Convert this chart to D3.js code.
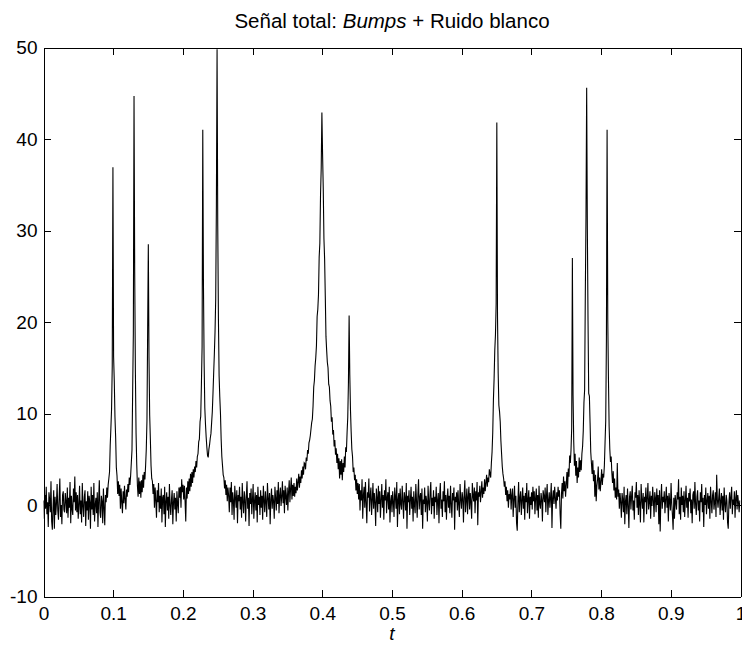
<html>

<head>
    <script src="https://d3js.org/d3.v7.min.js"></script>
    <style>
        body {
            margin: 0px;
            background-color: white;
        }

        text {
            font-family: Arial, "Liberation Sans", sans-serif;
            fill: black;
        }

        .axis path,
        .axis line {
            stroke: black;
            stroke-width: 1;
            shape-rendering: crispEdges;
        }
    </style>
</head>

<body>
    <svg id="chart" width="742" height="646"></svg>
</body>

<script>
    // Bumps + white noise, 1024 samples on [0, 1)
    const signal = [
        0.5, -1.5, 1.1, -0.4, 2.0, -1.0, 0.3, -2.4, 1.4, 0.6, -0.8, 2.6, -1.8, -2.7, -0.3, 1.6,
        -2.6, 0.9, -1.1, 0.1, 2.3, -0.6, -1.6, 0.8, 2.9, -1.3, 0.0, -2.1, 1.1, 1.5, -0.5, -0.8,
        1.3, 0.4, -0.9, 1.9, -1.4, 0.8, -0.3, 2.5, -2.0, 1.0, -0.4, -1.1, 1.8, 0.3, 3.1, -0.6,
        1.4, -0.8, 1.1, -1.5, 0.1, 2.1, -1.0, 0.5, -1.9, 2.4, -0.1, -1.3, 0.9, 1.6, -2.3, 0.4,
        -0.6, 1.5, -1.6, 1.0, 0.3, -2.6, 2.0, -0.5, 1.1, -1.1, 2.4, -1.8, 0.0, 0.8, -0.9, 1.4,
        -2.4, 0.5, 2.7, -0.8, -1.4, 1.0, 0.4, -2.0, 1.8, -0.3, -2.2, 1.1, 0.3, 1.9, 0.8, 2.2,
        2.9, 3.6, 6.5, 8.4, 10.5, 15.2, 36.9, 16.2, 13.5, 9.6, 7.4, 4.1, 3.2, 1.2, 2.6, 1.0,
        2.2, -0.4, 1.8, 0.3, -0.9, 1.5, 0.2, 2.1, 0.6, -0.5, 1.7, 0.9, 2.3, 1.4, 3.0, 2.2,
        3.2, 4.6, 6.0, 12.5, 18.8, 44.7, 25.4, 14.5, 7.8, 4.4, 2.1, 0.9, 3.0, 1.2, 2.6, 0.8,
        2.7, 1.4, 3.3, 1.9, 3.6, 2.8, 4.3, 6.1, 9.2, 19.0, 28.5, 16.1, 9.8, 7.2, 4.3, 2.9,
        2.6, 1.2, 2.3, -0.3, 1.9, 0.5, -1.4, 1.6, 0.3, 2.4, -0.8, 1.0, -0.4, 1.8, -1.9, 0.8,
        1.1, -1.0, 2.0, -2.4, 0.4, 1.4, -0.6, 0.9, -1.5, 2.3, 0.0, -1.1, 0.6, 1.6, -2.1, 0.3,
        1.3, -0.5, 0.8, -1.8, 1.5, 0.1, -0.9, 1.9, 0.8, 2.0, -0.3, 2.8, 1.4, 2.2, 0.6, 2.1,
        0.4, -1.8, 1.9, 0.7, 2.6, 1.2, 2.9, 1.5, 3.4, 2.0, 3.6, 2.4, 3.9, 3.0, 4.2, 3.6,
        4.8, 4.1, 5.3, 5.6, 6.9, 7.2, 9.1, 9.7, 13.2, 17.3, 41.0, 24.1, 15.5, 10.6, 8.8, 7.4,
        6.3, 5.4, 5.2, 6.1, 6.6, 7.3, 7.8, 9.0, 10.2, 12.2, 14.4, 16.5, 18.9, 22.5, 32.8, 49.8,
        30.5, 20.3, 14.1, 11.8, 10.0, 7.2, 5.3, 4.3, 3.3, 3.0, 1.8, 2.7, 1.1, 2.2, 0.4, 1.9,
        1.0, -0.8, 1.9, 0.3, 2.5, -1.1, 1.4, 0.5, -1.6, 2.1, 0.8, -0.3, 1.6, -2.0, 1.1, 0.4,
        2.0, -0.5, 0.9, -1.4, 2.4, 0.3, -0.9, 1.5, 0.6, -1.8, 1.0, 2.6, -0.4, 0.8, -2.3, 1.3,
        0.1, 1.8, -1.0, 0.6, 2.3, -1.5, 0.4, 1.4, -0.6, 1.1, -1.9, 2.0, 0.0, 0.9, -1.1, 1.6,
        -0.3, 1.0, -1.6, 2.1, 0.5, -0.8, 1.5, 0.3, -1.3, 2.4, 0.8, -0.5, 1.3, -2.1, 0.6, 1.8,
        -0.4, 1.1, 0.4, -1.5, 2.0, 0.8, -0.6, 1.6, 0.1, 2.5, -0.9, 1.0, 1.9, -0.1, 0.9, 2.6,
        0.2, 1.6, -0.9, 2.1, 0.9, 0.0, 1.9, -0.6, 1.4, 2.7, 0.3, 1.8, 3.0, 0.6, 2.2, 1.0,
        2.4, 0.9, 2.0, 1.3, 2.9, 1.6, 2.5, 3.4, 1.9, 3.1, 2.4, 3.8, 2.9, 4.2, 3.3, 4.6,
        4.5, 3.9, 5.2, 4.8, 6.0, 5.6, 6.8, 7.1, 7.6, 8.3, 9.0, 9.4, 10.8, 12.9, 13.6, 15.2,
        16.1, 17.4, 20.6, 21.4, 23.0, 27.1, 28.6, 33.9, 36.8, 42.9, 38.4, 34.6, 29.1, 26.9, 22.8, 18.4,
        16.9, 15.6, 15.0, 13.2, 12.9, 11.4, 10.8, 9.1, 9.6, 7.7, 8.2, 6.4, 7.1, 5.5, 6.2, 4.6,
        5.6, 3.9, 5.1, 2.9, 4.8, 3.3, 5.0, 2.7, 4.6, 3.6, 5.3, 4.1, 6.3, 5.8, 7.9, 9.6,
        13.4, 20.7, 14.2, 10.4, 8.0, 6.1, 5.3, 3.6, 4.1, 2.7, 3.3, 1.6, 2.8, 1.2, 2.4, 0.6,
        2.3, -0.6, 1.6, 0.5, 2.8, -1.5, 1.1, 2.0, -0.3, 2.5, 0.3, -2.0, 1.4, 0.8, 2.9, -0.7,
        1.0, 1.9, -1.1, 0.5, 2.4, -0.4, 1.3, 0.3, -2.3, 1.8, 0.8, -0.8, 2.1, 0.1, 1.5, -1.4,
        0.6, 2.3, -0.3, 1.1, -1.6, 1.6, 0.5, 2.8, -0.9, 0.8, 1.4, -0.5, 2.0, -1.9, 0.4, 1.1,
        -0.8, 1.5, 0.3, -1.3, 1.9, 0.9, -0.4, 2.5, -2.4, 0.6, 1.3, -1.0, 1.8, 0.1, -0.5, 2.1,
        0.4, -1.5, 1.4, 0.8, -0.6, 2.4, -2.6, 1.0, 0.3, 1.6, -1.1, 0.5, 2.0, -0.4, 0.9, -1.8,
        1.5, 0.0, -0.9, 2.3, 0.5, -1.4, 1.1, 2.8, -0.5, 0.8, 1.3, -1.1, 1.8, -2.6, 0.6, 0.1,
        1.9, -0.8, 1.0, 0.4, -1.8, 2.1, 0.3, -0.6, 1.4, 2.5, -1.0, 0.8, -0.1, 1.6, -1.5, 0.9,
        0.3, 2.0, -1.1, 0.5, 1.3, -2.0, 1.0, 2.4, -0.4, 0.6, -1.3, 1.5, 0.4, 2.6, -0.8, 1.1,
        -1.6, 0.8, 1.8, -0.3, 1.0, -0.9, 2.1, 0.1, -1.4, 1.3, 0.5, 1.9, -2.7, 0.9, 0.3, 1.4,
        -0.6, 1.6, 0.0, -1.3, 2.3, 0.6, -0.4, 1.4, 0.8, -1.9, 1.1, 2.7, -0.8, 0.5, 1.8, -1.0,
        0.9, 2.0, -0.5, 1.3, 0.3, -1.5, 2.4, 1.0, 0.4, 1.9, -0.9, 1.5, 0.5, 2.5, -2.2, 1.4,
        0.9, 2.1, 0.3, 1.4, 2.6, 0.8, 1.9, 1.2, 2.8, 1.5, 2.4, 3.3, 2.0, 3.0, 2.5, 3.9,
        3.4, 3.0, 4.6, 5.8, 7.9, 11.5, 13.8, 16.9, 18.6, 22.0, 41.8, 20.6, 14.4, 10.9, 10.2, 9.1,
        7.0, 5.6, 4.2, 3.4, 2.9, 2.0, 2.6, 1.1, 2.0, 0.4, 1.6, -0.3, 1.2, 0.6, 1.8, -0.5,
        1.1, 1.8, -1.3, 0.6, 2.1, -0.3, 1.0, -2.0, -2.8, 0.4, 2.5, -0.8, 0.8, 1.5, -1.1, 0.5,
        1.9, -0.4, 1.0, -1.6, 1.3, 0.3, 2.4, -0.9, 0.6, 1.6, -1.5, 0.9, 0.0, 1.4, -0.5, 2.0,
        0.4, 1.5, -1.0, 0.8, 1.8, -0.6, 1.1, -1.4, 2.1, 0.1, -0.4, 1.3, 0.6, -1.8, 1.6, 1.0,
        0.3, 1.9, -0.8, 1.1, 2.3, -1.1, 0.5, 1.4, -0.3, 0.9, 2.4, -2.5, 0.8, 1.6, 0.1, 2.0,
        0.8, -0.4, 1.4, 0.5, 2.0, 0.9, 1.6, -1.0, -2.6, 1.2, 2.4, 0.7, 3.1, 1.5, 2.6, 0.9,
        2.2, 3.6, 1.8, 4.0, 3.1, 5.4, 4.6, 6.0, 8.4, 27.0, 12.0, 6.9, 4.3, 5.6, 3.2, 4.8,
        2.4, 4.1, 3.0, 5.2, 3.6, 4.9, 3.8, 5.6, 6.4, 8.1, 11.2, 12.6, 23.0, 31.5, 45.6, 30.2,
        20.1, 12.2, 11.9, 9.0, 5.8, 4.6, 3.4, 4.9, 2.6, 3.8, 0.9, 3.3, 0.4, 2.1, 2.8, 4.2,
        1.7, 3.0, 1.5, 2.6, 3.9, 2.2, 3.4, 3.0, 4.3, 6.8, 9.2, 18.0, 41.0, 20.3, 13.8, 8.6,
        6.1, 4.7, 5.3, 3.5, 2.4, 3.7, 1.6, 2.9, 0.8, 1.9, 0.6, 4.6, 0.9, 1.7, -0.4, 1.3,
        0.3, -1.4, 1.3, 0.6, -0.8, 2.0, -2.1, 0.4, 1.1, -1.0, 1.8, 0.0, -2.5, 0.9, 1.5, -0.5,
        1.0, 2.1, -0.6, 0.5, -1.6, 1.4, 0.8, 2.5, -0.3, 1.1, -1.1, 1.6, 0.1, -1.9, 2.3, 0.6,
        -0.4, 1.3, -1.9, 0.9, 0.3, 1.9, -1.0, 0.8, 2.4, -0.5, 0.4, 1.5, -1.5, 1.0, -0.1, 2.0,
        0.5, -1.3, 1.4, 0.8, -0.8, 1.8, 0.0, 1.1, -2.1, 1.6, -2.9, 0.6, 2.3, -0.4, 0.9, 0.3,
        1.5, -0.9, 0.6, 2.0, -0.3, 1.0, -1.8, 1.3, 0.4, -0.6, 2.4, 0.1, -1.1, -2.7, 0.8, -1.5,
        1.1, 0.3, -0.5, 1.4, 0.6, 2.8, -1.0, 0.9, -1.6, 1.9, 0.0, 1.0, -0.8, 1.5, -1.3, 0.5,
        2.1, -0.3, 0.8, -1.4, 1.3, 0.4, 1.8, -0.9, 0.6, -2.0, 1.1, 1.5, -0.4, 2.5, 0.1, -1.1,
        0.9, 1.6, -0.6, 0.5, -1.8, 1.4, 0.3, 2.3, -0.8, 0.8, -2.4, 1.1, 0.0, 1.9, -1.0, 0.4,
        1.3, -0.4, 1.0, -1.5, 2.0, 0.5, -0.9, 1.1, 1.6, -0.5, 0.3, 1.4, -1.3, 3.3, 0.6, -0.3,
        0.8, 1.8, -1.1, 0.4, 1.3, -0.6, 1.0, -1.6, 1.9, 0.1, -0.8, 1.1, 0.5, -1.9, -2.6, 0.3,
        1.4, -0.4, 0.9, 2.0, -1.0, 0.6, 0.0, 1.5, -1.4, 0.8, 1.6, -0.5, 1.1, 0.3, -0.8, 0.5
    ];

    const xTicks = [0, 0.1, 0.2, 0.3, 0.4, 0.5, 0.6, 0.7, 0.8, 0.9, 1];
    const xTickLabels = ["0", "0.1", "0.2", "0.3", "0.4", "0.5", "0.6", "0.7", "0.8", "0.9", "1"];
    const yTicks = [-10, 0, 10, 20, 30, 40, 50];
    const yTickLabels = ["-10", "0", "10", "20", "30", "40", "50"];

    const svg = d3.select("#chart");
    const box = { left: 43.5, right: 740.5, top: 47.5, bottom: 596.5 };
    const tickLen = 7;

    const xScale = d3.scaleLinear().domain([0, 1]).range([box.left, box.right]);
    const yScale = d3.scaleLinear().domain([-10, 50]).range([box.bottom, box.top]);
    const dt = 1 / signal.length;

    svg.append("rect")
        .attr("width", 742).attr("height", 646)
        .attr("fill", "white");

    // clip the trace to the axes box
    svg.append("clipPath").attr("id", "plotClip")
        .append("rect")
        .attr("x", box.left).attr("y", box.top)
        .attr("width", box.right - box.left).attr("height", box.bottom - box.top);

    let lineGen = d3.line()
        .x((d, i) => xScale(i * dt))
        .y(d => yScale(d));

    svg.append("path")
        .datum(signal)
        .attr("clip-path", "url(#plotClip)")
        .attr("fill", "none")
        .attr("stroke", "black")
        .attr("stroke-width", 1.1)
        .attr("d", lineGen);

    // axes, ticks pointing inward like matlab
    let bottomAxis = d3.axisBottom(xScale)
        .tickValues(xTicks)
        .tickFormat((d, i) => xTickLabels[i])
        .tickSizeInner(-tickLen).tickSizeOuter(0).tickPadding(10);
    let topAxis = d3.axisTop(xScale)
        .tickValues(xTicks).tickFormat("")
        .tickSizeInner(-tickLen).tickSizeOuter(0);
    let leftAxis = d3.axisLeft(yScale)
        .tickValues(yTicks)
        .tickFormat((d, i) => yTickLabels[i])
        .tickSizeInner(-tickLen).tickSizeOuter(0).tickPadding(6);
    let rightAxis = d3.axisRight(yScale)
        .tickValues(yTicks).tickFormat("")
        .tickSizeInner(-tickLen).tickSizeOuter(0);

    svg.append("g").attr("class", "axis")
        .attr("transform", `translate(0,${box.bottom})`)
        .call(bottomAxis);
    svg.append("g").attr("class", "axis")
        .attr("transform", `translate(0,${box.top})`)
        .call(topAxis);
    svg.append("g").attr("class", "axis")
        .attr("transform", `translate(${box.left},0)`)
        .call(leftAxis);
    svg.append("g").attr("class", "axis")
        .attr("transform", `translate(${box.right},0)`)
        .call(rightAxis);

    svg.selectAll(".axis text")
        .attr("font-family", "Arial, 'Liberation Sans', sans-serif")
        .attr("font-size", 19)
        .attr("fill", "black");

    // title
    let title = svg.append("text")
        .attr("x", (box.left + box.right) / 2)
        .attr("y", 28)
        .attr("text-anchor", "middle")
        .attr("font-size", 20.5);
    title.append("tspan").text("Señal total: ");
    title.append("tspan").attr("font-style", "italic").text("Bumps");
    title.append("tspan").text(" + Ruido blanco");

    // x label
    svg.append("text")
        .attr("x", (box.left + box.right) / 2)
        .attr("y", 640)
        .attr("text-anchor", "middle")
        .attr("font-size", 19)
        .attr("font-style", "italic")
        .text("t");
</script>

</html>
